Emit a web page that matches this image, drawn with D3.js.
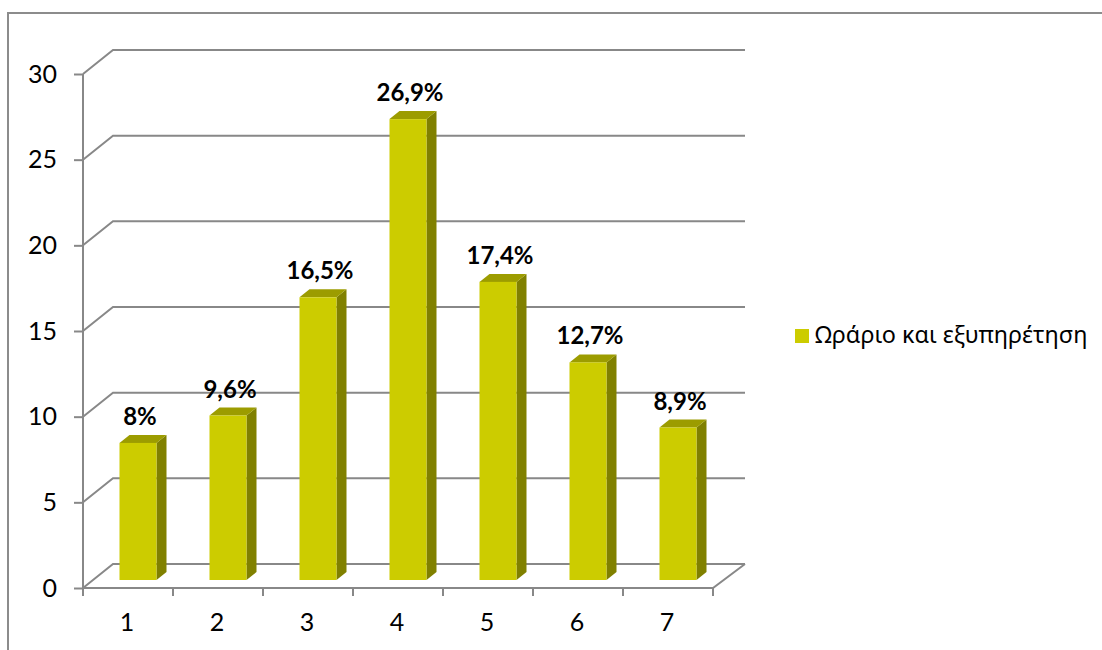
<!DOCTYPE html>
<html><head><meta charset="utf-8">
<script src="https://cdn.jsdelivr.net/npm/d3@7"></script>
<style>body{margin:0;background:#fff}svg{display:block}</style>
</head><body>
<svg id="c" width="1102" height="650"></svg>
<script>
const categories = ["1","2","3","4","5","6","7"];
const values = [8, 9.6, 16.5, 26.9, 17.4, 12.7, 8.9];
const yTicks = [0, 5, 10, 15, 20, 25, 30];
const seriesName = "Ωράριο και εξυπηρέτηση";

const svg = d3.select("#c");
const grid = "#888888";
const numFont = "Lato, 'Noto Sans', sans-serif";

// depth offsets
const DX = 30, DY = 24;

const x = d3.scaleBand().domain(categories).range([83, 713]);
const y = d3.scaleLinear().domain([0, 30]).range([588, 74]);

// chart border
svg.append("path").attr("d", "M8,650 L8,13 L1102,13")
  .attr("fill", "none").attr("stroke", "#8c8c8c").attr("stroke-width", 2);

// back wall gridlines + left wall diagonals
const g = svg.append("g");
yTicks.forEach(v => {
  g.append("path")
    .attr("d", `M${83},${y(v)} L${83 + DX},${y(v) - DY} L${745},${y(v) - DY}`)
    .attr("fill", "none").attr("stroke", grid).attr("stroke-width", 2);
});

// bars
const bw = 37, bdx = 10, bdy = 8;
const shiftX = DX / 3, shiftY = DY / 3;
const bars = svg.append("g");
categories.forEach((c, i) => {
  const v = values[i];
  const x0 = x(c) + x.bandwidth() / 2 - bw / 2 + shiftX;
  const x1 = x0 + bw;
  const yt = y(v) - shiftY, yb = y(0) - shiftY;
  bars.append("path")
    .attr("d", `M${x1},${yt} L${x1 + bdx},${yt - bdy} L${x1 + bdx},${yb - bdy} L${x1},${yb}Z`)
    .attr("fill", "#808000");
  bars.append("path")
    .attr("d", `M${x0},${yt} L${x0 + bdx},${yt - bdy} L${x1 + bdx},${yt - bdy} L${x1},${yt}Z`)
    .attr("fill", "#9c9c00");
  bars.append("rect").attr("x", x0).attr("y", yt).attr("width", bw).attr("height", yb - yt)
    .attr("fill", "#cccc00");
  bars.append("text")
    .attr("x", (x0 + x1) / 2 + 2).attr("y", yt - 18)
    .attr("text-anchor", "middle")
    .attr("font-family", numFont).attr("font-weight", "bold").attr("font-size", 24)
    .attr("fill", "#000")
    .text(String(v).replace(".", ",") + "%");
});

// floor front edge and right diagonal
svg.append("path")
  .attr("d", `M${83},${y(0)} L${713},${y(0)} L${745},${y(0) - DY}`)
  .attr("fill", "none").attr("stroke", grid).attr("stroke-width", 2);

// y axis
const yAxis = svg.append("g").attr("transform", "translate(83,0)")
  .call(d3.axisLeft(y).tickValues(yTicks).tickSize(9).tickPadding(17));
yAxis.selectAll("path,line").attr("stroke", grid).attr("stroke-width", 2);
yAxis.select(".domain").attr("d", `M0,${y(0)}V${y(30)}`);
yAxis.selectAll("text").attr("font-family", numFont).attr("font-size", 25).attr("fill", "#000");

// x axis boundary ticks
const bounds = categories.map(c => x(c)).concat([x.range()[1]]);
svg.append("g").selectAll("line").data(bounds).join("line")
  .attr("x1", d => d).attr("x2", d => d).attr("y1", y(0)).attr("y2", y(0) + 8)
  .attr("stroke", grid).attr("stroke-width", 2);
svg.append("g").selectAll("text").data(categories).join("text")
  .attr("x", d => x(d) + x.bandwidth() / 2 - 1).attr("y", 631)
  .attr("text-anchor", "middle")
  .attr("font-family", numFont).attr("font-size", 25).attr("fill", "#000")
  .text(d => d);

// legend
svg.append("rect").attr("x", 795).attr("y", 329).attr("width", 14).attr("height", 14).attr("fill", "#cccc00");
svg.append("text").attr("x", 815).attr("y", 343)
  .attr("font-family", "'Noto Sans', 'Open Sans', sans-serif").attr("font-size", 23.4).attr("fill", "#000")
  .text(seriesName);
</script>
</body></html>
